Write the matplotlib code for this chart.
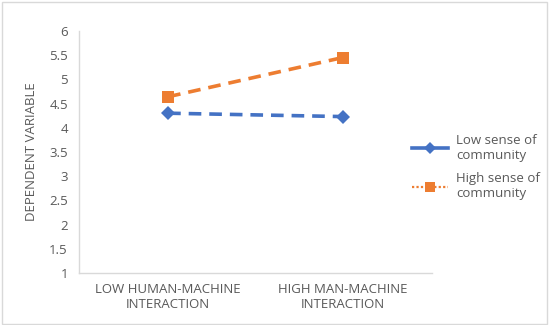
import matplotlib
matplotlib.use("Agg")
import matplotlib.pyplot as plt
from matplotlib.lines import Line2D
from matplotlib.patches import Rectangle

categories = ["LOW HUMAN-MACHINE\nINTERACTION", "HIGH MAN-MACHINE\nINTERACTION"]
low_sense = [4.30, 4.23]
high_sense = [4.64, 5.45]
series_names = ["Low sense of\ncommunity", "High sense of\ncommunity"]
yticks = [1, 1.5, 2, 2.5, 3, 3.5, 4, 4.5, 5, 5.5, 6]
ytick_labels = ["1", "1.5", "2", "2.5", "3", "3.5", "4", "4.5", "5", "5.5", "6"]

blue = "#4472C4"
orange = "#ED7D31"
gray = "#595959"

plt.rcParams['font.family'] = ['Open Sans', 'DejaVu Sans']

fig = plt.figure(figsize=(5.5, 3.25), dpi=100)
fig.patches.append(Rectangle((0.003, 0.004), 0.992, 0.99, transform=fig.transFigure,
                             fill=False, edgecolor="#D9D9D9", linewidth=1.0))
ax = fig.add_axes([0.1436, 0.16, 0.6418, 0.745])

x = list(range(len(categories)))
ax.plot(x, low_sense, color=blue, linestyle=(0, (3.5, 2.2)), linewidth=2.6,
        marker="D", markersize=7, markeredgewidth=0)
ax.plot(x, high_sense, color=orange, linestyle=(0, (3.5, 2.2)), linewidth=2.6,
        marker="s", markersize=8, markeredgewidth=0)

ax.set_xlim(-0.51, 1.51)
ax.set_ylim(1, 6)
ax.set_yticks(yticks)
ax.set_yticklabels(ytick_labels)
ax.set_xticks(x)
ax.set_xticklabels(categories)
ax.tick_params(axis="both", length=0, colors=gray, labelsize=9.5)
ax.tick_params(axis="y", pad=8)
ax.tick_params(axis="x", pad=7)
for lab in ax.get_xticklabels():
    lab.set_fontsize(9.5)
    lab.set_linespacing(1.25)
    lab.set_fontstretch("expanded")
for s in ["top", "right"]:
    ax.spines[s].set_visible(False)
for s in ["left", "bottom"]:
    ax.spines[s].set_color("#D9D9D9")
    ax.spines[s].set_linewidth(1.0)
ax.set_ylabel("DEPENDENT VARIABLE", color=gray, fontsize=9.5, labelpad=8)

handles = [
    Line2D([], [], color=blue, linestyle="-", linewidth=2.6, marker="D", markersize=6, markeredgewidth=0),
    Line2D([], [], color=orange, linestyle=(0, (1, 1)), linewidth=1.6, marker="s", markersize=7, markeredgewidth=0),
]
leg = fig.legend(handles, series_names, loc="upper left", bbox_to_anchor=(0.728, 0.625),
                 frameon=False, fontsize=9.5, handlelength=2.7, labelspacing=0.8,
                 handletextpad=0.6, labelcolor=gray)

fig.savefig("out.png", dpi=100)
